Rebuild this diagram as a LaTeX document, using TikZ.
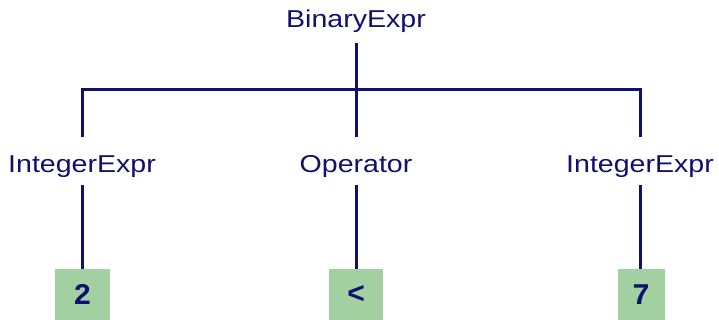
\documentclass[tikz,border=0pt]{standalone}
\usepackage{fontspec}
\setmainfont{Liberation Sans}
\newfontfamily\lblfont[FakeStretch=1.17]{Liberation Sans}
\newfontfamily\leaffont{Liberation Mono}
\definecolor{navy}{RGB}{16,16,110}
\definecolor{leafgreen}{RGB}{163,208,161}
\begin{document}
\begin{tikzpicture}[x=1pt,y=-1pt,
  lbl/.style={font=\lblfont\fontsize{24.4}{26}\selectfont, text=navy, inner sep=0pt, anchor=base},
  leaf/.style={fill=leafgreen, draw=none, inner sep=0pt, anchor=north, minimum height=51pt,
    text=navy, font=\leaffont\bfseries\fontsize{30}{30}\selectfont},
  conn/.style={draw=navy, line width=3pt}]
\useasboundingbox (0,0) rectangle (719,320);
\node[lbl, text depth=15pt] (root) at (356,28) {BinaryExpr};
\node[lbl, text height=36pt, text depth=12pt] (c1) at (82,173) {IntegerExpr};
\node[lbl, text height=36pt, text depth=12pt] (c2) at (356,173) {Operator};
\node[lbl, text height=36pt, text depth=12pt] (c3) at (640,173) {IntegerExpr};
\coordinate (bus) at (356,90);
\node[leaf, minimum width=55pt] (l1) at (82.5,269) {2};
\node[leaf, minimum width=54pt] (l2) at (356,269) {<};
\node[leaf, minimum width=47pt] (l3) at (641,269) {7};
\draw[conn] (root.south) -- (bus);
\draw[conn] (c1.north) |- (bus) -| (c3.north);
\draw[conn] (bus) -- (c2.north);
\draw[conn] (c1.south) -- (c1.south |- l1.north);
\draw[conn] (c2.south) -- (c2.south |- l2.north);
\draw[conn] (c3.south) -- (c3.south |- l3.north);
\end{tikzpicture}
\end{document}
